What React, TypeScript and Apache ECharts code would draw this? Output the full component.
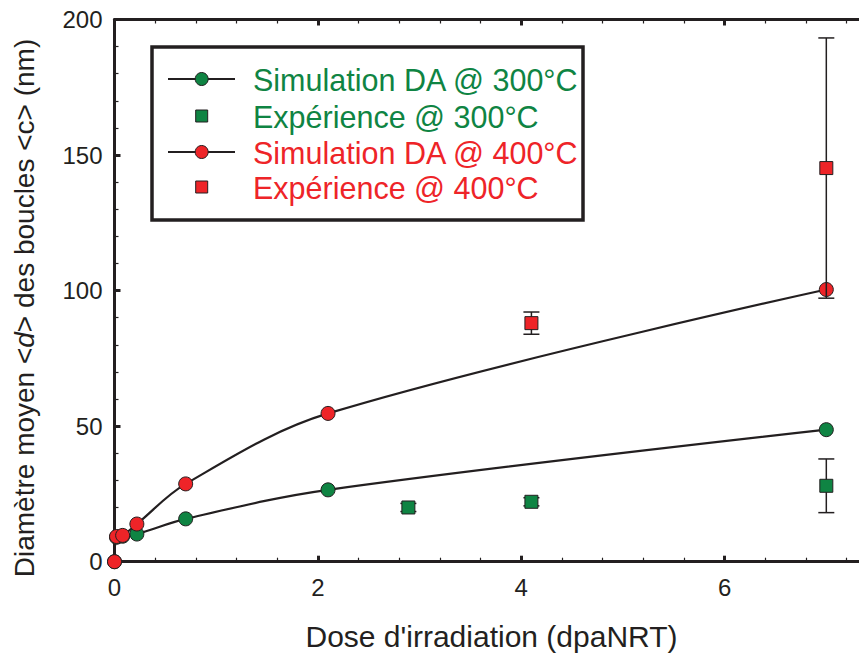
import React, { useEffect, useRef } from 'react';
import * as echarts from 'echarts';

const sim300X = [0, 0.02, 0.08, 0.22, 0.7, 2.1, 7];
const sim300Y = [0, 9.0, 9.4, 10.2, 15.8, 26.5, 48.7];
const sim400X = [0, 0.02, 0.08, 0.22, 0.7, 2.1, 7];
const sim400Y = [0, 9.3, 9.7, 13.9, 28.7, 54.7, 100.4];
const exp300X = [2.89, 4.1, 7];
const exp300Y = [20.0, 22.1, 28.0];
const exp300Err = [1.5, 1.5, 9.9];
const exp400X = [4.1, 7];
const exp400Y = [88.0, 145.2];
const exp400Err = [4.1, 48];
const legendLabels = ['Simulation DA @ 300°C', 'Expérience @ 300°C', 'Simulation DA @ 400°C', 'Expérience @ 400°C'];
const xTitle = "Dose d'irradiation (dpaNRT)";

const GREEN = '#0f8443';
const RED = '#ee2428';
const INK = '#231f20';
const FONT = '"Liberation Sans", Arial, Helvetica, sans-serif';

export default function App() {
  const ref = useRef<HTMLDivElement>(null);
  useEffect(() => {
    if (!ref.current) return;
    const chart = echarts.init(ref.current, null, { renderer: 'svg' });
    const pair = (xs: number[], ys: number[]) => xs.map((x, i) => [x, ys[i]]);
    const errData = (xs: number[], ys: number[], es: number[]) => xs.map((x, i) => [x, ys[i] - es[i], ys[i] + es[i]]);
    const errorSeries = (name: string, data: number[][]) => ({
      type: 'custom',
      name,
      z: 3,
      data,
      encode: { x: 0, y: [1, 2] },
      renderItem: (params: any, api: any) => {
        const x = api.value(0);
        const lo = api.coord([x, api.value(1)]);
        const hi = api.coord([x, api.value(2)]);
        const hw = 8;
        const style = { stroke: INK, lineWidth: 1.5, fill: null };
        return {
          type: 'group',
          children: [
            { type: 'line', shape: { x1: lo[0], y1: lo[1], x2: hi[0], y2: hi[1] }, style },
            { type: 'line', shape: { x1: lo[0] - hw, y1: lo[1], x2: lo[0] + hw, y2: lo[1] }, style },
            { type: 'line', shape: { x1: hi[0] - hw, y1: hi[1], x2: hi[0] + hw, y2: hi[1] }, style },
          ],
        };
      },
    });
    const axisCommon = {
      axisLine: { show: true, onZero: false, lineStyle: { color: INK, width: 3 } },
      axisTick: { show: true, inside: true, length: 6, lineStyle: { color: INK, width: 3 } },
      minorTick: { show: true, splitNumber: 5, length: 4, lineStyle: { color: INK, width: 1.2 } },
      splitLine: { show: false },
      minorSplitLine: { show: false },
    };
    const rows = [79, 116, 152, 187];
    const legendChildren: any[] = [
      { type: 'rect', shape: { x: 152, y: 47, width: 431, height: 173 }, style: { fill: '#fff', stroke: INK, lineWidth: 3.5 } },
    ];
    legendLabels.forEach((label, i) => {
      const color = i < 2 ? GREEN : RED;
      const y = rows[i];
      if (i % 2 === 0) {
        legendChildren.push({ type: 'line', shape: { x1: 168, y1: y, x2: 235, y2: y }, style: { stroke: INK, lineWidth: 2 } });
        legendChildren.push({ type: 'circle', shape: { cx: 201.7, cy: y, r: 6.5 }, style: { fill: color, stroke: INK, lineWidth: 1 } });
      } else {
        legendChildren.push({ type: 'rect', shape: { x: 195.7, y: y - 6, width: 12, height: 12 }, style: { fill: color, stroke: INK, lineWidth: 1 } });
      }
      legendChildren.push({
        type: 'text', x: 253, y: y + 1,
        style: { text: label, fill: color, fontSize: 30.5, fontFamily: FONT, align: 'left', verticalAlign: 'middle' },
      });
    });

    chart.setOption({
      animation: false,
      backgroundColor: '#fff',
      grid: { left: 114.5, right: 0.5, top: 19.5, bottom: 92.3, containLabel: false },
      xAxis: [
        {
          type: 'value', position: 'bottom', min: 0, max: 8, interval: 2,
          ...axisCommon,
          axisLabel: {
            show: true, margin: 14, color: INK, fontSize: 24, fontFamily: FONT,
            formatter: (v: number) => (v > 7 ? '' : String(v)),
          },
        },
        {
          type: 'value', position: 'top', min: 0, max: 8, interval: 2,
          ...axisCommon,
          axisLabel: { show: false },
        },
      ],
      yAxis: [
        {
          type: 'value', position: 'left', min: 0, max: 200, interval: 50,
          ...axisCommon,
          axisLabel: { show: true, margin: 12, color: INK, fontSize: 24, fontFamily: FONT },
        },
      ],
      series: [
        {
          type: 'line', name: legendLabels[0], data: pair(sim300X, sim300Y), smooth: 0.35,
          symbol: 'circle', symbolSize: 14, z: 2,
          lineStyle: { color: INK, width: 2.2 },
          itemStyle: { color: GREEN, borderColor: INK, borderWidth: 1 },
        },
        {
          type: 'line', name: legendLabels[2], data: pair(sim400X, sim400Y), smooth: 0.35,
          symbol: 'circle', symbolSize: 14, z: 2,
          lineStyle: { color: INK, width: 2.2 },
          itemStyle: { color: RED, borderColor: INK, borderWidth: 1 },
        },
        errorSeries('err300', errData(exp300X, exp300Y, exp300Err)),
        errorSeries('err400', errData(exp400X, exp400Y, exp400Err)),
        {
          type: 'scatter', name: legendLabels[1], data: pair(exp300X, exp300Y),
          symbol: 'rect', symbolSize: 13, z: 4,
          itemStyle: { color: GREEN, borderColor: INK, borderWidth: 1, opacity: 1 },
        },
        {
          type: 'scatter', name: legendLabels[3], data: pair(exp400X, exp400Y),
          symbol: 'rect', symbolSize: 13, z: 4,
          itemStyle: { color: RED, borderColor: INK, borderWidth: 1, opacity: 1 },
        },
      ],
      graphic: [
        { type: 'group', z: 10, children: legendChildren },
        {
          type: 'text', x: 491.5, y: 636, z: 10,
          style: { text: xTitle, fill: INK, fontSize: 30, fontFamily: FONT, align: 'center', verticalAlign: 'middle' },
        },
        {
          type: 'text', x: 24, y: 308, rotation: Math.PI / 2, z: 10,
          style: {
            text: 'Diamètre moyen <{i|d}> des boucles <c> (nm)',
            fill: INK, fontSize: 28, fontFamily: FONT, align: 'center', verticalAlign: 'middle',
            rich: { i: { fontStyle: 'italic', fontSize: 28, fontFamily: FONT, fill: INK } },
          },
        },
      ],
    });
    return () => chart.dispose();
  }, []);
  return (
    <div style={{ position: 'fixed', left: 0, top: 0, width: 859, height: 654, overflow: 'hidden' }}>
      <div ref={ref} style={{ width: 931, height: 654 }} />
    </div>
  );
}
